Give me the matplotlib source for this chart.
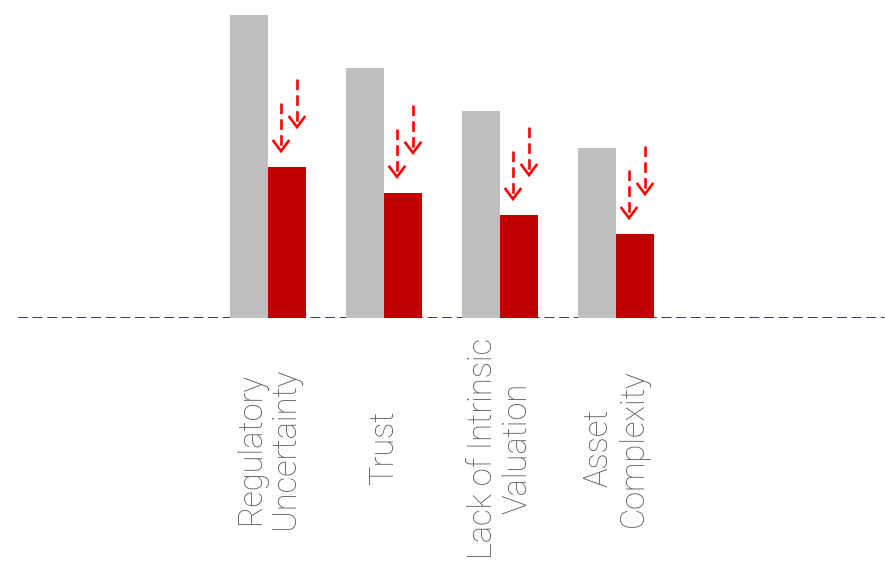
import numpy as np
import matplotlib
matplotlib.use("Agg")
import matplotlib.pyplot as plt

# =====================================
# DATA
# =====================================

categories = [
    "Regulatory\nUncertainty",
    "Trust",
    "Lack of Intrinsic\nValuation",
    "Asset\nComplexity",
]
before = [100, 82.5, 68.3, 56.1]   # gray
after = [49.8, 41.3, 34.0, 27.7]   # red

GRAY = "#BFBFBF"
RED = "#C00000"
ARROW = "#FF0000"
NAVY = "#1F2C66"

# =====================================
# LAYOUT (pixels of an 885x574 canvas)
# =====================================

W, H = 885, 574
base_px = 318          # baseline from top
left_px = 18
px_per_group = 116
first_center_px = 268
ymax = 104.95

fig = plt.figure(figsize=(W / 100, H / 100), dpi=100)
ax = fig.add_axes([left_px / W, (H - base_px) / H, 1 - left_px / W, base_px / H])
ax.set_axis_off()

x0 = -(first_center_px - left_px) / px_per_group
x1 = 3 + (W - (first_center_px + 3 * px_per_group)) / px_per_group
ax.set_xlim(x0, x1)
ax.set_ylim(0, ymax)

dx = 1 / px_per_group      # data units per pixel
dy = ymax / base_px

x = np.arange(len(categories))
w = 38 / px_per_group

ax.plot([x0, x1], [0, 0], color=NAVY, lw=1.3, dashes=(5.5, 2.6), zorder=1)
ax.bar(x - w / 2, before, width=w, color=GRAY, zorder=2)
ax.bar(x + w / 2, after, width=w, color=RED, zorder=2)


# dashed down arrows above the red bars
def down_arrow(xc, tip):
    ax.plot([xc, xc], [tip + 48 * dy, tip + 2 * dy], color=ARROW, lw=1.9,
            dashes=(4, 2), solid_capstyle="butt", dash_capstyle="butt", zorder=3)
    ax.plot([xc - 7.5 * dx, xc, xc + 7.5 * dx], [tip + 10 * dy, tip, tip + 10 * dy],
            color=ARROW, lw=1.9, solid_joinstyle="miter", zorder=3)


for xi, v in zip(x, after):
    xr = xi + w / 2
    down_arrow(xr - 6 * dx, v + 16 * dy)
    down_arrow(xr + 10 * dx, v + 40 * dy)

# =====================================
# LABELS
# =====================================

label_y = -(448 - base_px) / base_px
for xi, lab in zip(x, categories):
    ax.text(xi, label_y, lab, transform=ax.get_xaxis_transform(),
            rotation=90, ha="center", va="center", multialignment="center",
            fontsize=23.5, family="Roboto", fontweight="light",
            color="#5A5A5A", linespacing=1.1, clip_on=False)

fig.savefig("out.png", dpi=100)
plt.close(fig)
